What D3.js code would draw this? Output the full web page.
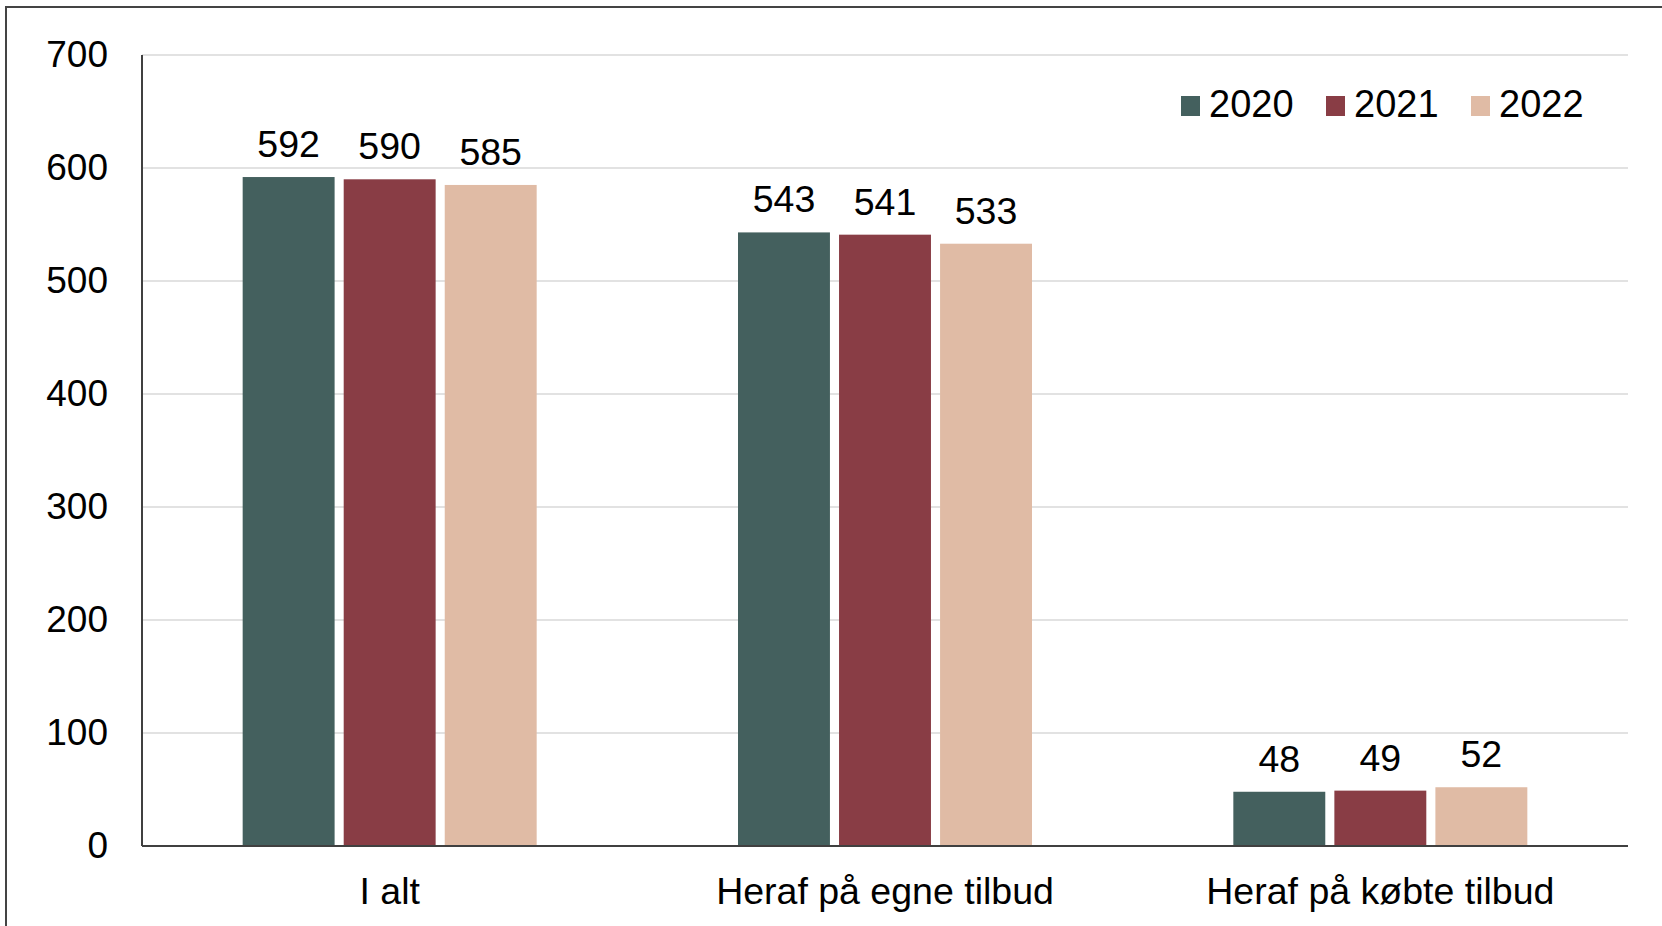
<!DOCTYPE html>
<html>
<head>
<meta charset="utf-8">
<style>
body { margin: 0; background: #fff; }
svg { font-family: "Liberation Sans", Arial, sans-serif; }
.grid line { stroke: #d9d9d9; stroke-width: 1.5px; }
.axis path, .axis line { display: none; }
</style>
</head>
<body>
<svg width="1662" height="926"></svg>
<script src="https://cdn.jsdelivr.net/npm/d3@7"></script>
<script>
var categories = ["I alt", "Heraf på egne tilbud", "Heraf på købte tilbud"];
var years = ["2020", "2021", "2022"];
var values2020 = [592, 543, 48];
var values2021 = [590, 541, 49];
var values2022 = [585, 533, 52];
var yTicks = [0, 100, 200, 300, 400, 500, 600, 700];
var colors = ["#44605e", "#893d45", "#e0bba5"];

var series = [values2020, values2021, values2022];

var svg = d3.select("svg"),
    margin = {top: 55, right: 34, bottom: 80, left: 142},
    width = +svg.attr("width") - margin.left - margin.right,
    height = +svg.attr("height") - margin.top - margin.bottom;

// outer frame
svg.append("rect")
    .attr("x", 6).attr("y", 7)
    .attr("width", 1680).attr("height", 960)
    .attr("fill", "none")
    .attr("stroke", "#444")
    .attr("stroke-width", 2);

var g = svg.append("g").attr("transform", "translate(" + margin.left + "," + margin.top + ")");

var x0 = d3.scaleBand().domain(categories).range([0, width]);
var x1 = d3.scaleBand().domain(years).range([0, 294]).paddingInner(0.09);
var y = d3.scaleLinear().domain([0, 700]).range([height, 0]);

g.append("g")
    .attr("class", "grid")
  .selectAll("line")
  .data(yTicks.filter(function(d) { return d > 0; }))
  .enter().append("line")
    .attr("x1", 0).attr("x2", width)
    .attr("y1", function(d) { return y(d); })
    .attr("y2", function(d) { return y(d); });

var yAxis = g.append("g")
    .attr("class", "axis")
    .call(d3.axisLeft(y).tickValues(yTicks).tickSize(0).tickPadding(34));
yAxis.selectAll("text")
    .attr("font-size", 37)
    .attr("font-family", "Liberation Sans, Arial, sans-serif")
    .attr("fill", "#000");

var groups = g.selectAll(".cat")
  .data(categories)
  .enter().append("g")
    .attr("class", "cat")
    .attr("transform", function(d) { return "translate(" + (x0(d) + (x0.bandwidth() - 294) / 2) + ",0)"; });

groups.selectAll("rect")
  .data(function(d, i) { return years.map(function(yr, j) { return {year: yr, value: series[j][i], j: j}; }); })
  .enter().append("rect")
    .attr("x", function(d) { return x1(d.year); })
    .attr("width", x1.bandwidth())
    .attr("y", function(d) { return y(d.value); })
    .attr("height", function(d) { return height - y(d.value); })
    .attr("fill", function(d) { return colors[d.j]; });

groups.selectAll("text.val")
  .data(function(d, i) { return years.map(function(yr, j) { return {year: yr, value: series[j][i]}; }); })
  .enter().append("text")
    .attr("class", "val")
    .attr("x", function(d) { return x1(d.year) + x1.bandwidth() / 2; })
    .attr("y", function(d) { return y(d.value) - 20; })
    .attr("text-anchor", "middle")
    .attr("font-size", 37.5)
    .text(function(d) { return d.value; });

// axis lines
g.append("line")
    .attr("x1", 0).attr("x2", 0)
    .attr("y1", 0).attr("y2", height)
    .attr("stroke", "#404040").attr("stroke-width", 2);
g.append("line")
    .attr("x1", 0).attr("x2", width)
    .attr("y1", height).attr("y2", height)
    .attr("stroke", "#404040").attr("stroke-width", 2);

// category labels
g.selectAll("text.cat-label")
  .data(categories)
  .enter().append("text")
    .attr("class", "cat-label")
    .attr("x", function(d) { return x0(d) + x0.bandwidth() / 2; })
    .attr("y", height + 58)
    .attr("text-anchor", "middle")
    .attr("font-size", 37.5)
    .text(function(d) { return d; });

// legend
var legendX = [1181, 1326, 1471];
var legend = svg.append("g").selectAll("g")
  .data(years)
  .enter().append("g")
    .attr("transform", function(d, i) { return "translate(" + legendX[i] + ",96)"; });
legend.append("rect")
    .attr("width", 19).attr("height", 20)
    .attr("fill", function(d, i) { return colors[i]; });
legend.append("text")
    .attr("x", 28).attr("y", 21)
    .attr("font-size", 38)
    .text(function(d) { return d; });
</script>
</body>
</html>
